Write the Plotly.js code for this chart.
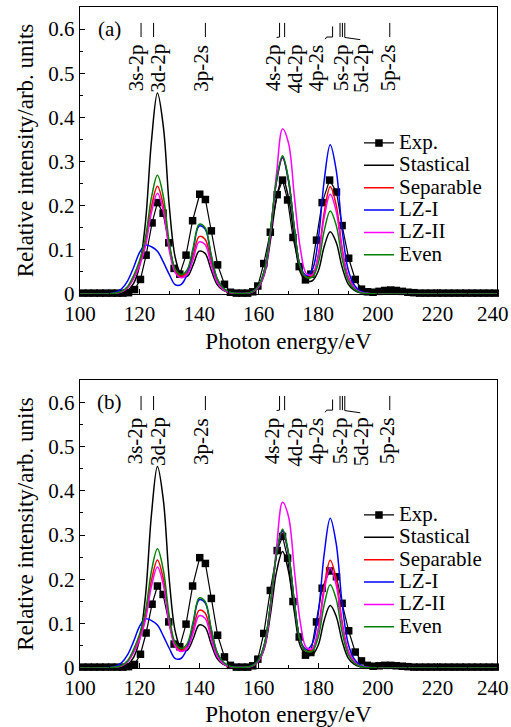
<!DOCTYPE html>
<html><head><meta charset="utf-8">
<script src="https://cdn.plot.ly/plotly-3.0.1.min.js"></script>
<style>html,body{margin:0;padding:0;background:#fff}#chart{width:511px;height:727px}</style>
</head><body><div id="chart"></div>
<script>
// ---- data ----
const energyGrid = [100,104,108,110,112,114,116,118,120,122,124,126,128,130,132,134,136,138,140,142,144,146,148,150,152,154,156,158,160,162,164,166,168,170,172,174,176,178,180,182,184,186,188,190,192,194,196,198,200,210,220,230,240];
const stastical = [0,0,0,0.0002,0.0006,0.0023,0.0078,0.024,0.064,0.164,0.347,0.455,0.378,0.197,0.082,0.044,0.040,0.066,0.097,0.092,0.055,0.022,0.0085,0.003,0.001,0.001,0.0016,0.0047,0.016,0.047,0.124,0.218,0.263,0.218,0.125,0.049,0.030,0.030,0.052,0.108,0.141,0.117,0.061,0.023,0.0087,0.0028,0.001,0.0003,0.0001,0,0,0,0];
const separable = [0,0,0,0.0006,0.0019,0.0054,0.015,0.037,0.068,0.116,0.198,0.244,0.200,0.105,0.052,0.040,0.050,0.087,0.130,0.124,0.074,0.030,0.0115,0.004,0.0014,0.001,0.002,0.0055,0.0185,0.055,0.145,0.256,0.308,0.256,0.146,0.060,0.038,0.042,0.089,0.185,0.243,0.202,0.105,0.040,0.015,0.0049,0.0017,0.0005,0.0001,0,0,0,0];
const lzI = [0,0,0.0003,0.001,0.004,0.012,0.030,0.060,0.094,0.111,0.107,0.097,0.072,0.044,0.021,0.022,0.045,0.101,0.154,0.147,0.088,0.035,0.0136,0.0048,0.0016,0.001,0.0019,0.0056,0.0186,0.056,0.146,0.257,0.310,0.257,0.147,0.062,0.042,0.055,0.124,0.258,0.338,0.281,0.146,0.056,0.021,0.0068,0.0024,0.0007,0.0002,0,0,0,0];
const lzII = [0,0,0,0.0006,0.0018,0.005,0.014,0.035,0.064,0.109,0.185,0.228,0.187,0.098,0.048,0.037,0.045,0.079,0.118,0.112,0.067,0.027,0.0104,0.0037,0.0012,0.001,0.0015,0.0049,0.016,0.049,0.139,0.274,0.374,0.342,0.219,0.102,0.046,0.044,0.085,0.174,0.226,0.188,0.098,0.0375,0.014,0.0045,0.0016,0.0005,0.0001,0,0,0,0];
const even = [0,0,0,0.0007,0.0021,0.0061,0.017,0.042,0.076,0.129,0.219,0.269,0.220,0.116,0.056,0.044,0.055,0.105,0.158,0.150,0.090,0.036,0.014,0.0049,0.0016,0.001,0.002,0.0056,0.019,0.056,0.147,0.260,0.313,0.260,0.148,0.060,0.038,0.038,0.070,0.1435,0.188,0.156,0.081,0.031,0.0117,0.0038,0.0013,0.0004,0.0001,0,0,0,0];

const expEnergy = [100.9,102.8,104.8,106.7,108.6,110.6,112.5,114.4,116.3,118.3,120.3,122.2,124.2,126.0,127.9,129.8,131.6,133.5,135.6,137.8,140.2,142.1,144.1,146.2,148.5,150.5,152.5,154.4,156.3,158.0,159.7,161.7,163.9,166.2,168.0,169.7,171.5,173.6,175.7,177.5,179.4,181.3,183.8,186.1,188.0,190.2,192.4,194.5,196.5,198.4,200.4,202.3,204.3,206.2,208.2,210.1,212.1,214.0,216.0,217.9,219.9,221.8,223.8,225.7,227.7,229.6,231.6,233.5,235.5,237.4,239.4];
const expA = [0.002,0.002,0.002,0.002,0.002,0.002,0.002,0.002,0.003,0.010,0.033,0.088,0.161,0.207,0.183,0.116,0.058,0.045,0.088,0.166,0.226,0.214,0.143,0.066,0.022,0.004,0.002,0.002,0.002,0.005,0.018,0.069,0.140,0.225,0.258,0.213,0.128,0.062,0.032,0.045,0.122,0.207,0.258,0.231,0.155,0.081,0.033,0.011,0.005,0.004,0.006,0.008,0.009,0.008,0.006,0.004,0.003,0.002,0.002,0.002,0.002,0.002,0.002,0.002,0.002,0.002,0.002,0.002,0.002,0.002,0.002];
const expB = [0.002,0.002,0.002,0.002,0.002,0.002,0.002,0.002,0.003,0.008,0.031,0.079,0.144,0.185,0.166,0.104,0.054,0.048,0.099,0.185,0.249,0.236,0.157,0.074,0.025,0.006,0.002,0.002,0.002,0.005,0.020,0.078,0.175,0.265,0.297,0.248,0.150,0.070,0.029,0.035,0.104,0.180,0.219,0.206,0.146,0.084,0.036,0.016,0.006,0.004,0.005,0.006,0.006,0.005,0.004,0.003,0.002,0.002,0.002,0.002,0.002,0.002,0.002,0.002,0.002,0.002,0.002,0.002,0.002,0.002,0.002];

const seriesNames = ['Exp.','Stastical','Separable','LZ-I','LZ-II','Even'];
const transitionLabels = ['3s-2p','3d-2p','3p-2s','4s-2p','4d-2p','4p-2s','5s-2p','5d-2p','5p-2s'];
const transitionLabelEnergy = [118.6,126.2,140.6,164.6,172.1,179.1,187.4,194.4,203.2];
const transitionTickEnergy = [120.5,124.7,142.1,167.0,168.7,187.3,188.1,204.0];
const panelLabels = ['(a)','(b)'];
const xTickVals = [100,120,140,160,180,200,220,240];
const yTickVals = [0,0.1,0.2,0.3,0.4,0.5,0.6];

// ---- styling ----
const FONT = 'Liberation Serif';
const colors = ['#000000','#000000','#ff0000','#0000ff','#ff00ff','#008000'];
const theory = [stastical, separable, lzI, lzII, even];
const lastX = xTickVals[xTickVals.length - 1];

const traces = [];
[['x','y','legend',expA],['x2','y2','legend2',expB]].forEach(([xa,ya,lg,expVals]) => {
  traces.push({x: expEnergy, y: expVals, xaxis: xa, yaxis: ya, legend: lg,
    name: '<span style="font-size:21px">' + seriesNames[0] + '</span>',
    mode: 'lines+markers', line: {color: '#000', width: 1.2},
    marker: {symbol: 'square', size: 7.5, color: '#000'}, cliponaxis: false});
  theory.forEach((vals, i) => {
    traces.push({x: energyGrid, y: vals, xaxis: xa, yaxis: ya, legend: lg,
      name: '<span style="font-size:21px">' + seriesNames[i+1] + '</span>',
      mode: 'lines', line: {color: colors[i+1], width: 1.5, shape: 'spline', smoothing: 1}});
  });
});

function xAxis(anchor) {
  return {domain: [0,1], anchor: anchor, range: [100,240], tickvals: xTickVals,
    // the last label is drawn as an annotation, nudged inside the figure as in the original
    ticktext: xTickVals.map(v => v === lastX ? '' : String(v)),
    ticks: 'inside', ticklen: 5, tickwidth: 1, tickcolor: '#000',
    ticklabelstandoff: 0,
    minor: {dtick: 10, tick0: 100, ticks: 'inside', ticklen: 3, tickwidth: 1, tickcolor: '#000'},
    showline: true, mirror: true, linecolor: '#000', linewidth: 1.3,
    showgrid: false, zeroline: false,
    tickfont: {family: FONT, size: 21, color: '#000'},
    title: {text: 'Photon energy/eV', font: {family: FONT, size: 23, color: '#000'}, standoff: 8}};
}
function yAxis(anchor, domain) {
  return {domain: domain, anchor: anchor, range: [0,0.65], tickvals: yTickVals,
    ticktext: yTickVals.map(v => v === 0 ? '0' : v.toFixed(1)),
    ticks: 'inside', ticklen: 5, tickwidth: 1, tickcolor: '#000',
    ticklabeloverflow: 'allow',
    minor: {dtick: 0.05, tick0: 0, ticks: 'inside', ticklen: 3, tickwidth: 1, tickcolor: '#000'},
    showline: true, mirror: true, linecolor: '#000', linewidth: 1.3,
    showgrid: false, zeroline: false,
    tickfont: {family: FONT, size: 21, color: '#000'},
    title: {text: 'Relative intensity/arb. units', font: {family: FONT, size: 23, color: '#000'}, standoff: 8}};
}

const annotations = [];
const shapes = [];
[['x','y',0],['x2','y2',1]].forEach(([xa,ya,p]) => {
  annotations.push({xref: xa, yref: ya, x: 110, y: 0.6, text: panelLabels[p], showarrow: false,
    xanchor: 'center', yanchor: 'middle', font: {family: FONT, size: 21, color: '#000'}});
  annotations.push({xref: xa, yref: ya, x: lastX, y: 0, text: String(lastX), showarrow: false,
    xanchor: 'center', yanchor: 'middle', xshift: -4, yshift: -18,
    font: {family: FONT, size: 21, color: '#000'}});
  transitionLabels.forEach((t, i) => {
    annotations.push({xref: xa, yref: ya, x: transitionLabelEnergy[i], y: 0.570, text: t,
      textangle: -90, showarrow: false, xanchor: 'center', yanchor: 'top',
      font: {family: FONT, size: 21, color: '#000'}});
  });
  transitionTickEnergy.forEach(e => {
    shapes.push({type: 'line', xref: xa, yref: ya, x0: e, x1: e, y0: 0.582, y1: 0.614,
      line: {color: '#000', width: 1}});
  });
  shapes.push({type: 'path', xref: xa, yref: ya, path: 'M166.0,0.581 L167.0,0.582', line: {color: '#000', width: 1}});
  shapes.push({type: 'path', xref: xa, yref: ya, path: 'M182.3,0.577 L182.8,0.582 L184.8,0.582 L184.8,0.606', line: {color: '#000', width: 1}});
  shapes.push({type: 'path', xref: xa, yref: ya, path: 'M188.9,0.614 L188.9,0.581 L194.1,0.576', line: {color: '#000', width: 1}});
});

const legendBase = {xref: 'paper', yref: 'paper', xanchor: 'left', yanchor: 'top', x: 0.669,
  bgcolor: 'rgba(0,0,0,0)', borderwidth: 0, font: {family: FONT, size: 14.9, color: '#000'}, traceorder: 'normal'};

const layout = {
  width: 511, height: 727, margin: {l: 80, r: 14, t: 7, b: 59},
  font: {family: FONT, color: '#000'},
  paper_bgcolor: '#fff', plot_bgcolor: '#fff', showlegend: true,
  xaxis: xAxis('y'), yaxis: yAxis('x', [0.5658, 1]),
  xaxis2: xAxis('y2'), yaxis2: yAxis('x2', [0, 0.4357]),
  legend: Object.assign({}, legendBase, {y: 0.8188}),
  legend2: Object.assign({}, legendBase, {y: 0.256}),
  annotations: annotations, shapes: shapes
};

Plotly.newPlot('chart', traces, layout, {displayModeBar: false, staticPlot: true}).then(gd => {
  // align the 240 annotation vertically with the other x tick labels
  const lbl = gd.querySelector('.xaxislayer-above .xtick text');
  const frame = gd.querySelector('.xaxislayer-above');
  if (lbl) {
    const bb = lbl.getBoundingClientRect();
    const top = gd.getBoundingClientRect().top;
    const centerY = (bb.top + bb.bottom) / 2 - top;
    const axisY = 7 + (1 - 0.5658) * 661;
    const shift = -(centerY - axisY);
    if (isFinite(shift) && Math.abs(shift) < 40) {
      const upd = {};
      gd.layout.annotations.forEach((a, i) => { if (a.text === String(lastX)) upd['annotations[' + i + '].yshift'] = shift; });
      Plotly.relayout(gd, upd);
    }
  }
});
</script></body></html>
